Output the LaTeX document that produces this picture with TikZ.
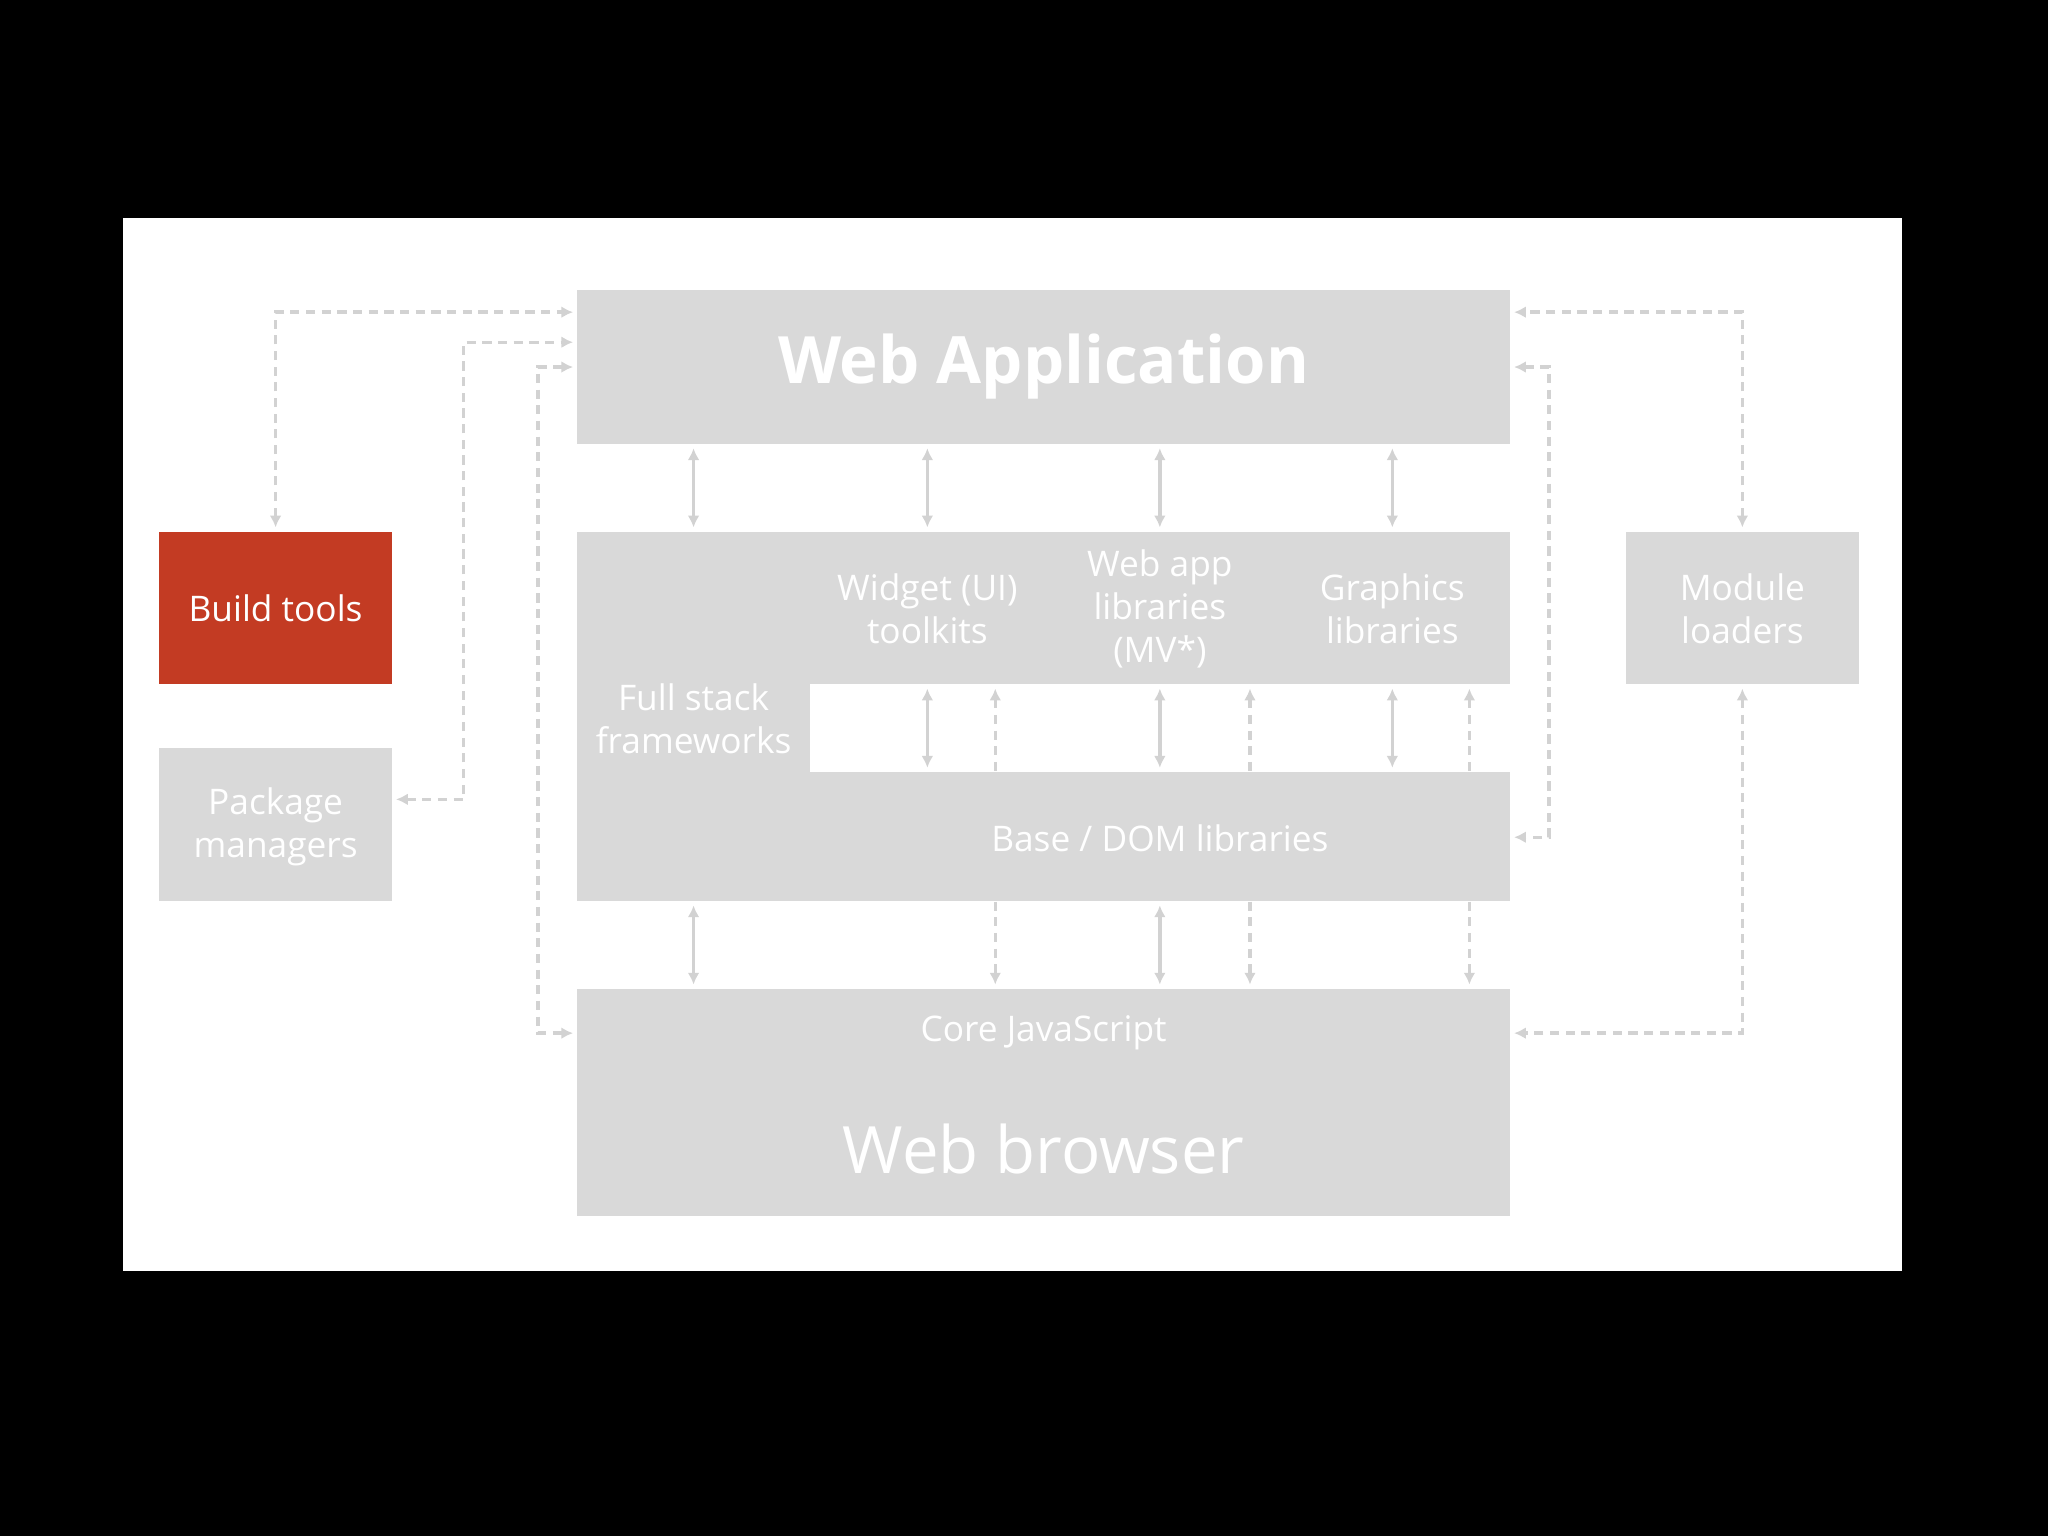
\documentclass[tikz,border=0pt]{standalone}
\usepackage{fontspec}
\setmainfont{Open Sans}
\usetikzlibrary{arrows.meta,calc}
\definecolor{bx}{HTML}{D9D9D9}
\definecolor{ln}{HTML}{D2D2D2}
\definecolor{rd}{HTML}{C33B23}
\begin{document}
\begin{tikzpicture}[x=1pt,y=-1pt,
 box/.style={fill=bx,draw=none,inner sep=0,text=white,align=center},
 lbl/.style={text=white,align=center,font=\fontsize{27}{33}\selectfont\addfontfeature{Scale=1}},
 sa/.style={draw=ln,line width=2.6pt,{Latex[length=9,width=9]}-{Latex[length=9,width=9]}},
 da/.style={draw=ln,line width=2.6pt,dash pattern=on 7pt off 5pt},
 tip/.style={-{Latex[length=9,width=9]}},
 tips/.style={{Latex[length=9,width=9]}-{Latex[length=9,width=9]}}]
\fill[black] (0,0) rectangle (1568,1176);
\useasboundingbox (0,0) rectangle (1568,1176);
\fill[white] (94,167) rectangle (1456,973);
% boxes
\node[box,minimum width=714,minimum height=118,font=\fontsize{50}{60}\selectfont\bfseries] (wa) at (799,281) {Web Application};
\node[box,minimum width=714,minimum height=117] (top) at (799,465.5) {};
\node[box,minimum width=178,minimum height=283] (fs) at (531,548.5) {};
\node[box,minimum width=714,minimum height=99] (base) at (799,640.5) {};
\node[box,minimum width=714,minimum height=174] (wb) at (799,844) {};
\node[box,fill=rd,minimum width=178,minimum height=117] (bt) at (211,465.5) {};
\node[box,minimum width=178,minimum height=117] (pm) at (211,631.5) {};
\node[box,minimum width=178,minimum height=117] (ml) at (1334,465.5) {};
% labels
\node[lbl] (t1) at (211,466) {Build tools};
\node[lbl] (t2) at (211,633) {Package\\managers};
\node[lbl] (t3) at (1334,466) {Module\\loaders};
\node[lbl] (t4) at (531,550) {Full stack\\frameworks};
\node[lbl] (t5) at (710,466) {Widget (UI)\\toolkits};
\node[lbl] (t6) at (888,466) {Web app\\libraries\\(MV*)};
\node[lbl] (t7) at (1066,466) {Graphics\\libraries};
\node[lbl] (t8) at (888,642) {Base / DOM libraries};
\node[lbl] (t9) at (799,791) {Core JavaScript};
\node[text=white,font=\fontsize{50}{60}\selectfont] (t10) at (799,880) {Web browser};
% solid arrows
\foreach \x in {531,710,888,1066} \draw[sa] (wa.south -| \x,0) ++(0,3) -- ($(top.north -| \x,0)+(0,-3)$);
\foreach \x in {710,888,1066} \draw[sa] ($(top.south -| \x,0)+(0,3)$) -- ($(base.north -| \x,0)+(0,-3)$);
\foreach \x in {531,888} \draw[sa] ($(base.south -| \x,0)+(0,3)$) -- ($(wb.north -| \x,0)+(0,-3)$);
% dashed short
\foreach \x in {762,957,1125} {
 \draw[da,{Latex[length=9,width=9]}-] ($(top.south -| \x,0)+(0,3)$) -- (base.north -| \x,0);
 \draw[da,tip] (base.south -| \x,0) -- ($(wb.north -| \x,0)+(0,-3)$);}
% dashed connectors left
\draw[da,tips] ($(bt.north)+(0,-3)$) |- ($(wa.west |- 0,239)+(-3,0)$);
\draw[da,tips] ($(pm.east |- 0,612)+(3,0)$) -| (355,262) -- ($(wa.west |- 0,262)+(-3,0)$);
\draw[da,tips] ($(wa.west |- 0,281)+(-3,0)$) -| (412,500) |- ($(wb.west |- 0,791)+(-3,0)$);
% right
\draw[da,tips] ($(ml.north)+(0,-3)$) |- ($(wa.east |- 0,239)+(3,0)$);
\draw[da,tips] ($(wa.east |- 0,281)+(3,0)$) -| (1186,500) |- ($(base.east |- 0,641)+(3,0)$);
\draw[da,tips] ($(ml.south)+(0,3)$) |- ($(wb.east |- 0,791)+(3,0)$);
\end{tikzpicture}
\end{document}
